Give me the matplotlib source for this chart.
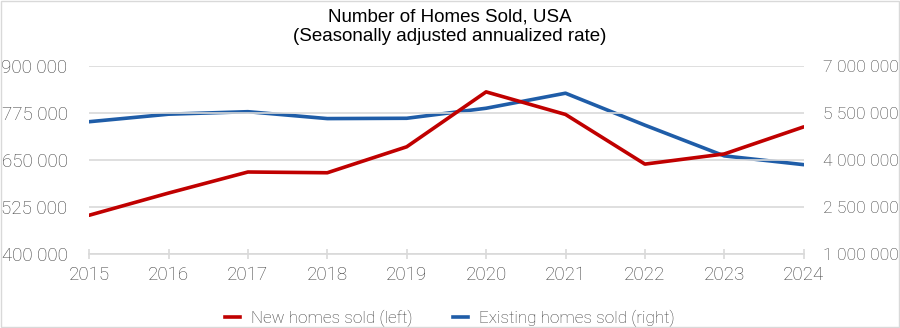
import matplotlib
matplotlib.use("Agg")
import matplotlib.pyplot as plt
from matplotlib.ticker import FuncFormatter
from matplotlib.lines import Line2D
from matplotlib.patches import Rectangle

years = [2015, 2016, 2017, 2018, 2019, 2020, 2021, 2022, 2023, 2024]
new_homes = [503000, 562000, 618000, 616000, 685000, 831000, 771000, 639000, 666000, 738000]
existing_homes = [5220000, 5460000, 5540000, 5320000, 5330000, 5650000, 6130000, 5110000, 4130000, 3850000]

left_ticks = [400000, 525000, 650000, 775000, 900000]
right_ticks = [1000000, 2500000, 4000000, 5500000, 7000000]

title = "Number of Homes Sold, USA\n(Seasonally adjusted annualized rate)"
label_new = "New homes sold (left)"
label_existing = "Existing homes sold (right)"

RED = "#C00000"
BLUE = "#1F5DA8"
GRID = "#D9D9D9"
TXT = "#3C3C3C"

fig = plt.figure(figsize=(9, 3.28), dpi=100)
ax = fig.add_axes([0.099, 0.2256, 0.794, 0.5734])
ax2 = ax.twinx()

fmt = FuncFormatter(lambda v, p: f"{int(round(v)):,}".replace(",", " "))

ax.set_xlim(years[0], years[-1])
ax.set_ylim(left_ticks[0], left_ticks[-1])
ax2.set_ylim(right_ticks[0], right_ticks[-1])
ax.set_yticks(left_ticks)
ax2.set_yticks(right_ticks)
ax.set_xticks(years)
ax.yaxis.set_major_formatter(fmt)
ax2.yaxis.set_major_formatter(fmt)

ax.grid(axis="y", color=GRID, lw=1.2)
ax.set_axisbelow(True)
for a in (ax, ax2):
    for s in a.spines.values():
        s.set_visible(False)
ax.spines["bottom"].set_visible(True)
ax.spines["bottom"].set_color(GRID)
ax.spines["bottom"].set_linewidth(1.2)

ax.tick_params(axis="y", length=0, pad=15.5, labelcolor=TXT)
ax2.tick_params(axis="y", length=0, pad=14, labelcolor=TXT)
ax.tick_params(axis="x", direction="inout", length=7, width=1.2, color=GRID, pad=5, labelcolor=TXT)
for lab in ax.get_xticklabels() + ax.get_yticklabels():
    lab.set_fontfamily("Roboto")
    lab.set_fontweight("light")
    lab.set_fontsize(13.5)
for lab in ax2.get_yticklabels():
    lab.set_fontfamily("Roboto")
    lab.set_fontweight("light")
    lab.set_fontsize(12.6)

ax2.plot(years, existing_homes, color=BLUE, lw=2.6, solid_capstyle="round", zorder=3)
ax.plot(years, new_homes, color=RED, lw=2.6, solid_capstyle="round", zorder=4)
ax.set_zorder(ax2.get_zorder() + 1)
ax.patch.set_visible(False)

fig.text(0.5, 0.975, title, ha="center", va="top", fontsize=13.5, family="Liberation Sans",
         color="black", linespacing=1.2)

handles = [Line2D([], [], color=RED, lw=2.6), Line2D([], [], color=BLUE, lw=2.6)]
leg = fig.legend(handles, [label_new, label_existing], loc="center", bbox_to_anchor=(0.5, 0.03),
                 ncol=2, frameon=False, handlelength=0.85, handletextpad=0.65, columnspacing=2.4,
                 prop=dict(family="Roboto", weight="light", size=12.3))
for t in leg.get_texts():
    t.set_color(TXT)

fig.patches.append(Rectangle((0.001, 0.002), 0.998, 0.996, transform=fig.transFigure,
                             fill=False, edgecolor=GRID, lw=1.0))

fig.savefig("out.png", dpi=100)
